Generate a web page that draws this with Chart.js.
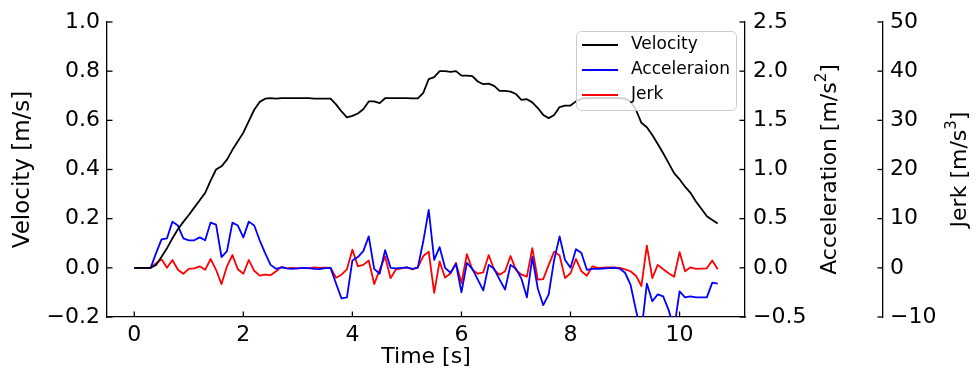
<!DOCTYPE html>
<html>
<head>
<meta charset="utf-8">
<script src="https://cdn.jsdelivr.net/npm/chart.js@4.4.1/dist/chart.umd.min.js"></script>
<style>
  html, body { margin: 0; padding: 0; background: #fff; }
  #wrap { width: 976px; height: 376px; }
</style>
</head>
<body>
<div id="wrap"><canvas id="c" width="976" height="376"></canvas></div>
<script>
// Sample times [s]
const times = [
  0.0, 0.1, 0.2, 0.3, 0.4, 0.5, 0.6, 0.7, 0.8, 0.9,
  1.0, 1.1, 1.2, 1.3, 1.4, 1.5, 1.6, 1.7, 1.8, 1.9,
  2.0, 2.1, 2.2, 2.3, 2.4, 2.5, 2.6, 2.7, 2.8, 2.9,
  3.0, 3.1, 3.2, 3.3, 3.4, 3.5, 3.6, 3.7, 3.8, 3.9,
  4.0, 4.1, 4.2, 4.3, 4.4, 4.5, 4.6, 4.7, 4.8, 4.9,
  5.0, 5.1, 5.2, 5.3, 5.4, 5.5, 5.6, 5.7, 5.8, 5.9,
  6.0, 6.1, 6.2, 6.3, 6.4, 6.5, 6.6, 6.7, 6.8, 6.9,
  7.0, 7.1, 7.2, 7.3, 7.4, 7.5, 7.6, 7.7, 7.8, 7.9,
  8.0, 8.1, 8.2, 8.3, 8.4, 8.5, 8.6, 8.7, 8.8, 8.9,
  9.0, 9.1, 9.2, 9.3, 9.4, 9.5, 9.6, 9.7, 9.8, 9.9,
  10.0, 10.1, 10.2, 10.3, 10.4, 10.5, 10.6, 10.7
];

// Velocity [m/s]
const velocity = [
  0, 0, 0, 0, 0.012, 0.045, 0.08, 0.12, 0.157, 0.187,
  0.215, 0.245, 0.275, 0.305, 0.355, 0.40, 0.413, 0.44, 0.48, 0.515,
  0.55, 0.597, 0.643, 0.675, 0.688, 0.69, 0.688, 0.69, 0.69, 0.69,
  0.69, 0.69, 0.69, 0.688, 0.688, 0.688, 0.688, 0.665, 0.636, 0.612,
  0.618, 0.628, 0.645, 0.677, 0.677, 0.67, 0.69, 0.69, 0.69, 0.69,
  0.69, 0.689, 0.689, 0.712, 0.768, 0.776, 0.80, 0.80, 0.797, 0.80,
  0.782, 0.782, 0.78, 0.758, 0.747, 0.749, 0.74, 0.72, 0.72, 0.717,
  0.707, 0.683, 0.686, 0.673, 0.65, 0.622, 0.609, 0.622, 0.654, 0.66,
  0.66, 0.677, 0.688, 0.69, 0.69, 0.69, 0.69, 0.69, 0.69, 0.69,
  0.688, 0.677, 0.643, 0.59, 0.572, 0.54, 0.504, 0.466, 0.426, 0.385,
  0.36, 0.33, 0.305, 0.27, 0.24, 0.21, 0.195, 0.18
];

// Acceleration [m/s^2]
const acceleration = [
  0, 0, 0, 0, 0.15, 0.29, 0.30, 0.47, 0.43, 0.30,
  0.28, 0.28, 0.31, 0.28, 0.46, 0.44, 0.11, 0.17, 0.46, 0.43,
  0.31, 0.47, 0.43, 0.28, 0.15, 0.03, -0.01, 0.005, -0.005, -0.01,
  -0.005, 0, -0.003, -0.01, -0.013, -0.003, 0, -0.16, -0.31, -0.30,
  0.075, 0.11, 0.17, 0.32, -0.01, -0.06, 0.18, 0, -0.005, 0,
  0.005, -0.01, 0.003, 0.27, 0.59, 0.08, 0.21, 0, -0.05, 0.04,
  -0.25, 0.05, -0.01, -0.12, -0.23, 0.03, -0.01, -0.12, -0.22, 0.03,
  -0.01, -0.11, -0.30, 0.11, -0.21, -0.38, -0.27, 0.08, 0.32, 0.08,
  0, 0.19, 0.15, -0.02, -0.01, -0.01, -0.007, -0.003, 0, -0.007,
  -0.05, -0.17, -0.43, -0.65, -0.16, -0.34, -0.27, -0.29, -0.43, -0.62,
  -0.24, -0.30, -0.29, -0.30, -0.30, -0.30, -0.15, -0.16
];

// Jerk [m/s^3]
const jerk = [
  0, 0, 0, 0, 0.95, 1.76, 0, 1.6, -0.4, -1.2,
  -0.2, -0.1, 0.3, -0.4, 1.8, -0.4, -3.3, 0.3, 2.6, -0.3,
  -1.2, 1.6, -0.6, -1.6, -1.4, -1.5, -0.7, 0.2, -0.1, 0,
  -0.1, 0, -0.1, 0.1, 0, 0.05, 0, -2.0, -1.4, -0.3,
  3.7, 0.3, 0.6, 1.5, -3.3, -0.4, 2.3, -2.1, -0.3, -0.1,
  0.1, -0.3, 0.1, 2.4, 3.3, -5.1, 1.3, -2.0, -1.1, 1.0,
  -3.1, 2.8, -0.4, -1.2, -0.9, 2.6, -0.4, -1.4, -0.7, 2.4,
  -0.4, -1.4, -1.8, 4.0, -2.4, -2.3, 0.6, 3.3, 2.5, -2.1,
  -1.1, 1.8, -0.7, -1.6, 0.3, 0, 0.05, 0.1, 0.1, 0,
  -0.3, -0.7, -1.6, -3.7, 4.5, -2.1, 0.6, -0.3, -1.1, -1.8,
  3.2, -0.7, 0.1, -0.2, -0.15, -0.1, 1.5, -0.3
];

// Axis ticks
const timeTicks = [0, 2, 4, 6, 8, 10];
const velocityTicks = [-0.2, 0.0, 0.2, 0.4, 0.6, 0.8, 1.0];
const accelTicks = [-0.5, 0.0, 0.5, 1.0, 1.5, 2.0, 2.5];
const jerkTicks = [-10, 0, 10, 20, 30, 40, 50];

const FONT = 'DejaVu Sans';

const pts = ys => ys.map((y, i) => ({ x: times[i], y }));
const fmt = d => v => (v < 0 ? '\u2212' : '') + Math.abs(v).toFixed(d);
const fixTicks = list => scale => { scale.ticks = list.map(v => ({ value: v })); };

// Inward tick marks on every axis
const tickMarks = {
  id: 'tickMarks',
  afterDraw(chart) {
    const ctx = chart.ctx;
    const len = 5.5;
    ctx.save();
    ctx.strokeStyle = '#000';
    ctx.lineWidth = 1.3;
    Object.values(chart.scales).forEach(s => {
      s.ticks.forEach(t => {
        const p = s.getPixelForValue(t.value);
        ctx.beginPath();
        if (s.axis === 'x') {
          ctx.moveTo(p, s.top); ctx.lineTo(p, s.top - len);
        } else if (s.position === 'left') {
          ctx.moveTo(s.right, p); ctx.lineTo(s.right + len, p);
        } else {
          ctx.moveTo(s.left, p); ctx.lineTo(s.left - len, p);
        }
        ctx.stroke();
      });
    });
    ctx.restore();
  }
};

// Axis titles, rotated bottom-to-top on the vertical axes
function drawTitle(ctx, parts, cx, cy, rotate) {
  ctx.save();
  ctx.translate(cx, cy);
  if (rotate) ctx.rotate(-Math.PI / 2);
  ctx.fillStyle = '#000';
  ctx.textBaseline = 'middle';
  ctx.textAlign = 'left';
  let total = 0;
  parts.forEach(p => { ctx.font = p.size + 'px "' + FONT + '"'; total += ctx.measureText(p.text).width; });
  let x = -total / 2;
  parts.forEach(p => {
    ctx.font = p.size + 'px "' + FONT + '"';
    ctx.fillText(p.text, x, p.dy || 0);
    x += ctx.measureText(p.text).width;
  });
  ctx.restore();
}

const axisTitles = {
  id: 'axisTitles',
  afterDraw(chart) {
    const ctx = chart.ctx;
    const a = chart.chartArea;
    const midY = (a.top + a.bottom) / 2;
    drawTitle(ctx, [{ text: 'Time [s]', size: 22 }], (a.left + a.right) / 2, 357, false);
    drawTitle(ctx, [{ text: 'Velocity [m/s]', size: 23 }], 23, midY, true);
    drawTitle(ctx, [
      { text: 'Acceleration [m/s', size: 22 },
      { text: '2', size: 15, dy: -8 },
      { text: ']', size: 22 }
    ], 830, midY, true);
    drawTitle(ctx, [
      { text: 'Jerk [m/s', size: 22 },
      { text: '3', size: 15, dy: -8 },
      { text: ']', size: 22 }
    ], 960, midY, true);
  }
};

// Legend box in the upper right of the plot
const legendBox = {
  id: 'legendBox',
  afterDatasetsDraw(chart) {
    const ctx = chart.ctx;
    const x = 576.5, y = 31.5, w = 160, h = 79, r = 5;
    ctx.save();
    ctx.beginPath();
    ctx.moveTo(x + r, y);
    ctx.arcTo(x + w, y, x + w, y + h, r);
    ctx.arcTo(x + w, y + h, x, y + h, r);
    ctx.arcTo(x, y + h, x, y, r);
    ctx.arcTo(x, y, x + w, y, r);
    ctx.closePath();
    ctx.fillStyle = 'rgba(255,255,255,0.8)';
    ctx.fill();
    ctx.strokeStyle = '#cccccc';
    ctx.lineWidth = 1;
    ctx.stroke();
    ctx.font = '17px "' + FONT + '"';
    ctx.textBaseline = 'middle';
    ctx.textAlign = 'left';
    chart.data.datasets.forEach((ds, i) => {
      const ly = 45 + i * 25;
      ctx.beginPath();
      ctx.moveTo(582, ly); ctx.lineTo(618, ly);
      ctx.strokeStyle = ds.borderColor;
      ctx.lineWidth = ds.borderWidth;
      ctx.stroke();
      ctx.fillStyle = '#000';
      ctx.fillText(ds.label, 631, ly);
    });
    ctx.restore();
  }
};

const tickFont = { family: FONT, size: 22 };
const border = { display: true, color: '#000', width: 1.3 };
const grid = { display: false, drawTicks: false };

new Chart(document.getElementById('c'), {
  type: 'line',
  data: {
    datasets: [
      { label: 'Velocity', data: pts(velocity), yAxisID: 'y', borderColor: '#000000', borderWidth: 1.8 },
      { label: 'Acceleraion', data: pts(acceleration), yAxisID: 'y1', borderColor: '#0000ff', borderWidth: 1.8 },
      { label: 'Jerk', data: pts(jerk), yAxisID: 'y2', borderColor: '#ff0000', borderWidth: 1.8 }
    ]
  },
  options: {
    responsive: false,
    animation: false,
    devicePixelRatio: 1,
    layout: { padding: { top: 22, left: 0, right: 0, bottom: 0 } },
    elements: { point: { radius: 0 }, line: { tension: 0, borderJoinStyle: 'round' } },
    plugins: { legend: { display: false }, tooltip: { enabled: false } },
    scales: {
      x: {
        type: 'linear', position: 'bottom', min: -0.5, max: 11.2,
        grid, border,
        ticks: { font: tickFont, color: '#000', padding: 5, maxRotation: 0, callback: v => String(v) },
        afterBuildTicks: fixTicks(timeTicks),
        afterFit: s => { s.height = 59; }
      },
      y: {
        type: 'linear', position: 'left', min: -0.2, max: 1.0,
        grid, border,
        ticks: { font: tickFont, color: '#000', padding: 7, callback: fmt(1) },
        afterBuildTicks: fixTicks(velocityTicks),
        afterFit: s => { s.width = 107; }
      },
      y1: {
        type: 'linear', position: 'right', weight: 0, min: -0.5, max: 2.5,
        grid, border,
        ticks: { font: tickFont, color: '#000', padding: 8, callback: fmt(1) },
        afterBuildTicks: fixTicks(accelTicks),
        afterFit: s => { s.width = 138; }
      },
      y2: {
        type: 'linear', position: 'right', weight: 1, min: -10, max: 50,
        grid, border,
        ticks: { font: tickFont, color: '#000', padding: 7, callback: fmt(0) },
        afterBuildTicks: fixTicks(jerkTicks),
        afterFit: s => { s.width = 93; }
      }
    }
  },
  plugins: [tickMarks, axisTitles, legendBox]
});
</script>
</body>
</html>
